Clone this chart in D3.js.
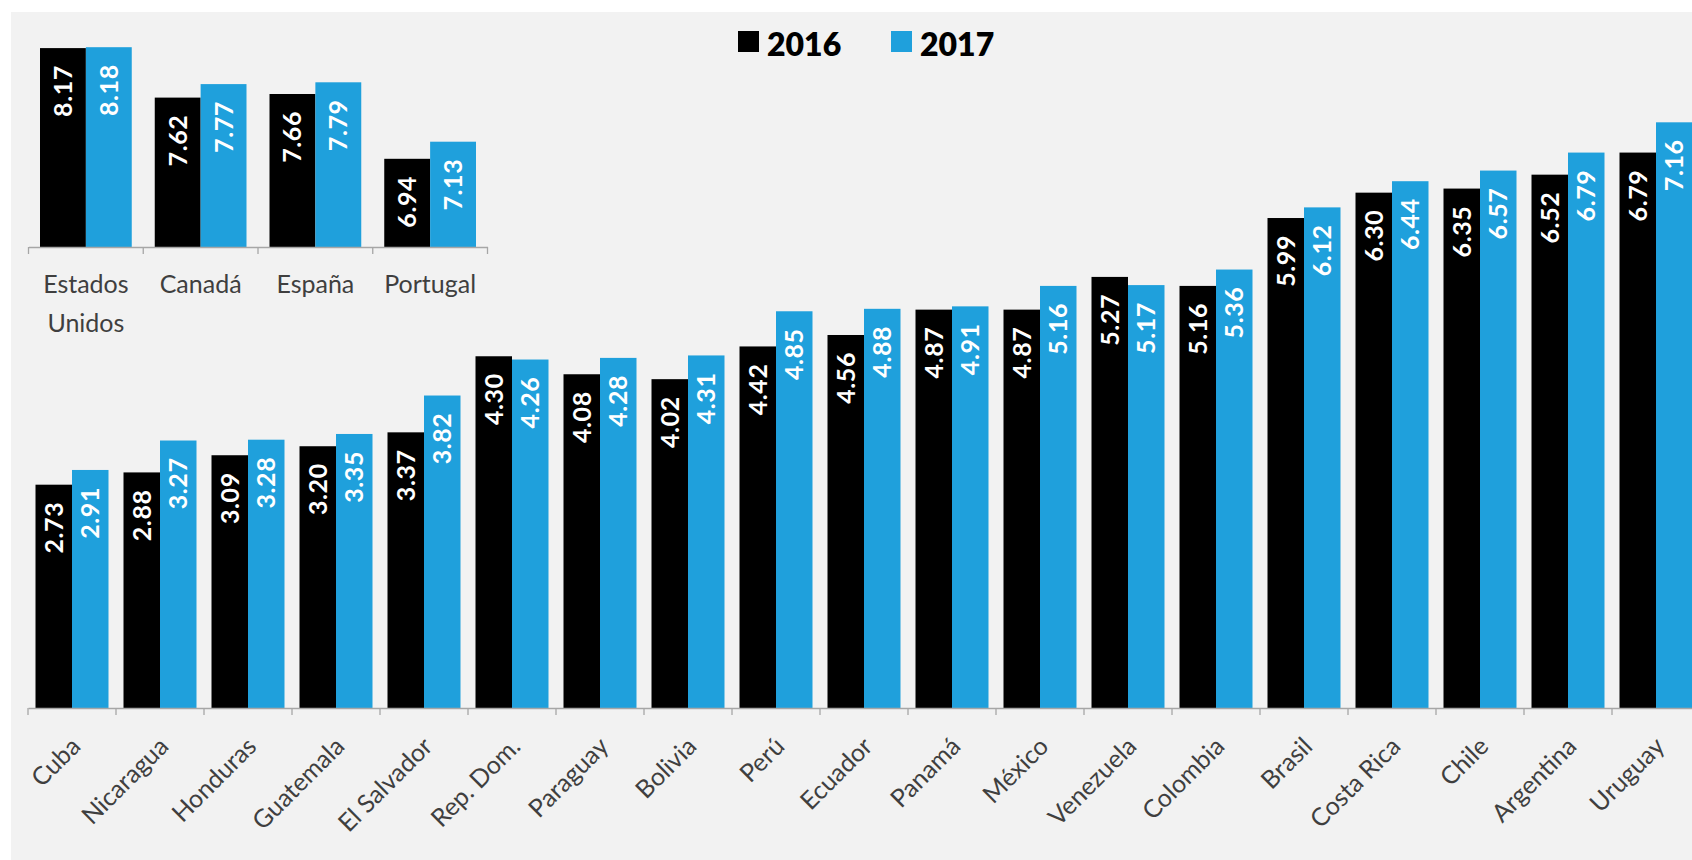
<!DOCTYPE html>
<html>
<head>
<meta charset="utf-8">
<script src="https://cdn.jsdelivr.net/npm/d3@7"></script>
<style>
  html, body { margin: 0; padding: 0; background: #ffffff; }
  svg { display: block; }
  text { font-family: Lato, "Open Sans", sans-serif; }
</style>
</head>
<body>
<svg id="chart" width="1692" height="860"></svg>
<script>
// Series
const seriesNames = ["2016", "2017"];
const seriesColors = ["#000000", "#1fa0dc"];

// Latin America (main panel)
const categories = ["Cuba", "Nicaragua", "Honduras", "Guatemala", "El Salvador", "Rep. Dom.",
  "Paraguay", "Bolivia", "Perú", "Ecuador", "Panamá", "México", "Venezuela", "Colombia",
  "Brasil", "Costa Rica", "Chile", "Argentina", "Uruguay"];
const values2016 = [2.73, 2.88, 3.09, 3.20, 3.37, 4.30, 4.08, 4.02, 4.42, 4.56, 4.87, 4.87,
  5.27, 5.16, 5.99, 6.30, 6.35, 6.52, 6.79];
const values2017 = [2.91, 3.27, 3.28, 3.35, 3.82, 4.26, 4.28, 4.31, 4.85, 4.88, 4.91, 5.16,
  5.17, 5.36, 6.12, 6.44, 6.57, 6.79, 7.16];

// North America and Iberia (inset panel)
const insetCategories = ["Estados Unidos", "Canadá", "España", "Portugal"];
const inset2016 = [8.17, 7.62, 7.66, 6.94];
const inset2017 = [8.18, 7.77, 7.79, 7.13];

const fmt = d3.format(".2f");
const svg = d3.select("#chart");

// Page background with a thin white margin on the top and left
svg.append("rect").attr("x", 0).attr("y", 0).attr("width", 1692).attr("height", 860).attr("fill", "#ffffff");
svg.append("rect").attr("x", 11).attr("y", 12).attr("width", 1681).attr("height", 848).attr("fill", "#f2f2f2");

function rows(cats, a, b) {
  return cats.map((c, i) => ({ cat: c, vals: [{ s: seriesNames[0], v: a[i] }, { s: seriesNames[1], v: b[i] }] }));
}

function drawPanel(g, opts) {
  const { cats, a, b, x, x1, y, baseY, rotateLabels } = opts;
  const color = d3.scaleOrdinal().domain(seriesNames).range(seriesColors);
  const data = rows(cats, a, b);

  const groups = g.selectAll("g.grp").data(data).join("g")
    .attr("class", "grp")
    .attr("transform", d => `translate(${x(d.cat)},0)`);

  groups.selectAll("rect").data(d => d.vals).join("rect")
    .attr("x", d => x1(d.s))
    .attr("width", x1.bandwidth())
    .attr("y", d => y(d.v))
    .attr("height", d => baseY - y(d.v))
    .attr("fill", d => color(d.s));

  groups.selectAll("text.val").data(d => d.vals).join("text")
    .attr("class", "val")
    .attr("transform", d => `translate(${x1(d.s) + x1.bandwidth() / 2},${y(d.v) + 17}) rotate(-90)`)
    .attr("text-anchor", "end")
    .attr("dy", "0.36em")
    .attr("fill", "#ffffff")
    .attr("font-weight", 700)
    .attr("font-size", 25)
    .attr("letter-spacing", 0.6)
    .text(d => fmt(d.v));

  // Category axis: baseline with tick marks between the groups
  const axis = g.append("g").attr("transform", `translate(0,${baseY})`)
    .call(d3.axisBottom(x).tickSize(0).tickFormat(""));
  axis.select(".domain").attr("stroke", "#a6a6a6").attr("stroke-width", 1.3);
  const edges = cats.map(c => x(c)).concat([x.range()[1]]);
  g.selectAll("line.tick-mark").data(edges).join("line")
    .attr("class", "tick-mark")
    .attr("x1", d => d).attr("x2", d => d)
    .attr("y1", baseY).attr("y2", baseY + 7)
    .attr("stroke", "#a6a6a6").attr("stroke-width", 1.3);

  // Category labels
  if (rotateLabels) {
    g.selectAll("text.cat").data(cats).join("text")
      .attr("class", "cat")
      .attr("transform", c => `translate(${x(c) + x.bandwidth() / 2 + 10},${baseY + 40}) rotate(-45)`)
      .attr("text-anchor", "end")
      .attr("fill", "#3f3f3f")
      .attr("font-size", 25)
      .text(c => c);
  } else {
    const labels = g.selectAll("text.cat").data(cats).join("text")
      .attr("class", "cat")
      .attr("x", c => x(c) + x.bandwidth() / 2)
      .attr("y", baseY + 46)
      .attr("text-anchor", "middle")
      .attr("fill", "#3f3f3f")
      .attr("font-size", 25);
    labels.each(function (c) {
      const t = d3.select(this);
      const words = c.split(" ");
      t.text(c);
      if (words.length > 1 && this.getComputedTextLength() > x.bandwidth() - 6) {
        t.text(null);
        words.forEach((w, i) => {
          t.append("tspan").attr("x", x(c) + x.bandwidth() / 2).attr("dy", i === 0 ? 0 : 39).text(w);
        });
      }
    });
  }
}

// Main panel
const mainBase = 708;
const mainBand = 88;
const xMain = d3.scaleBand().domain(categories).range([28, 28 + categories.length * mainBand]);
const x1Main = d3.scaleBand().domain(seriesNames).range([7.5, mainBand - 7.5]);
const yMain = d3.scaleLinear().domain([0, 8]).range([mainBase, mainBase - 8 * 81.8]);
drawPanel(svg.append("g"), { cats: categories, a: values2016, b: values2017,
  x: xMain, x1: x1Main, y: yMain, baseY: mainBase, rotateLabels: true });

// Inset panel
const insetBase = 247;
const xInset = d3.scaleBand().domain(insetCategories).range([28.5, 487.5]);
const x1Inset = d3.scaleBand().domain(seriesNames).range([11.5, xInset.bandwidth() - 11.5]);
const yInset = d3.scaleLinear().domain([5.96, 8.5]).range([insetBase, insetBase - 2.54 * 90]);
drawPanel(svg.append("g"), { cats: insetCategories, a: inset2016, b: inset2017,
  x: xInset, x1: x1Inset, y: yInset, baseY: insetBase, rotateLabels: false });

// Legend
const legend = svg.append("g").attr("transform", "translate(738,31)");
const legendItems = legend.selectAll("g").data(seriesNames).join("g")
  .attr("transform", (d, i) => `translate(${i * 153},0)`);
legendItems.append("rect").attr("width", 21).attr("height", 21)
  .attr("fill", (d, i) => seriesColors[i]);
legendItems.append("text").attr("x", 29).attr("y", 25)
  .attr("font-size", 32).attr("font-weight", 800).attr("fill", "#000")
  .text(d => d);
</script>
</body>
</html>
